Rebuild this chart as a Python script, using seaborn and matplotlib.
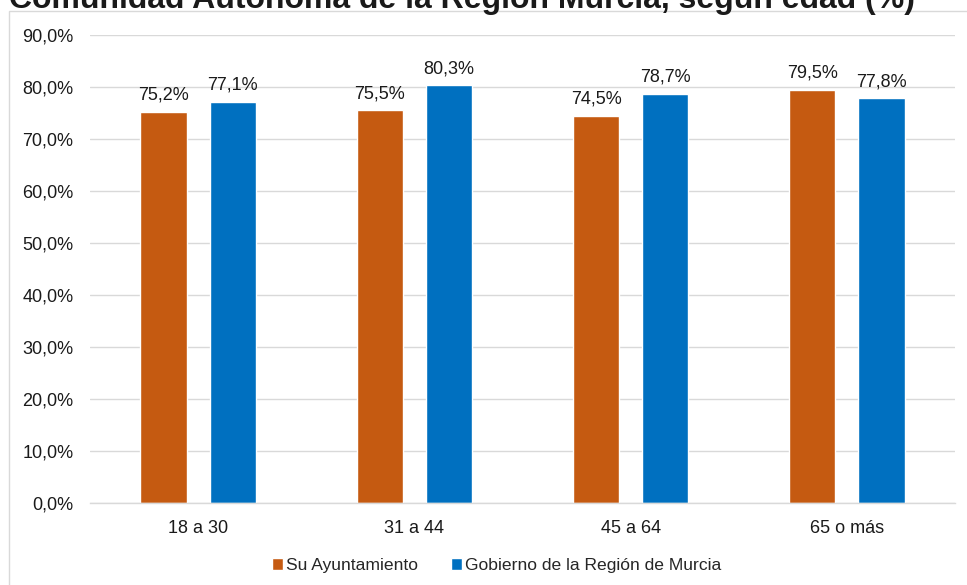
import matplotlib
matplotlib.use("Agg")
import matplotlib.pyplot as plt
import matplotlib.patches as mpatches
from matplotlib.ticker import FuncFormatter, MultipleLocator
import pandas as pd
import seaborn as sns

# data
age_groups = ["18 a 30", "31 a 44", "45 a 64", "65 o más"]
series_names = ["Su Ayuntamiento", "Gobierno de la Región de Murcia"]
ayuntamiento = [75.2, 75.5, 74.5, 79.5]
gobierno = [77.1, 80.3, 78.7, 77.8]
title_text = "Comunidad Autónoma de la Región Murcia, según edad (%)"

ORANGE = "#C55A11"
BLUE = "#0070C0"
GRID = "#D9D9D9"
TEXT = "#1A1A1A"


def pct(value, _pos=None):
    return f"{value:.1f}%".replace(".", ",")


def main() -> None:
    df = pd.DataFrame(
        {
            "edad": age_groups * 2,
            "serie": [series_names[0]] * len(age_groups) + [series_names[1]] * len(age_groups),
            "valor": ayuntamiento + gobierno,
        }
    )

    sns.set_theme(style="white")
    plt.rcParams["font.family"] = ["Liberation Sans", "DejaVu Sans"]

    fig = plt.figure(figsize=(9.67, 5.85), dpi=100)
    # outer chart frame (only left and top edges fall inside the picture)
    fig.patches.append(
        mpatches.Rectangle(
            (9 / 967, -0.05), 1.2, 1 - 11 / 585 + 0.05,
            transform=fig.transFigure, fill=False, edgecolor=GRID, linewidth=1.0,
        )
    )
    # title is cropped at the top in the reference
    fig.text(0.478, 1 - 8 / 585, title_text, ha="center", va="baseline",
             fontsize=23, fontweight="bold", color=TEXT)

    ax = fig.add_axes([90 / 967, 1 - 503 / 585, (955 - 90) / 967, (503 - 35) / 585])
    sns.barplot(
        data=df, x="edad", y="valor", hue="serie",
        palette=[ORANGE, BLUE], width=0.64, gap=0.33,
        saturation=1, legend=True, ax=ax,
    )

    ax.set_ylim(0, 90)
    ax.yaxis.set_major_locator(MultipleLocator(10))
    ax.yaxis.set_major_formatter(FuncFormatter(pct))
    ax.grid(axis="y", color=GRID, linewidth=1.0)
    ax.set_axisbelow(True)
    for side in ["top", "right", "left"]:
        ax.spines[side].set_visible(False)
    ax.spines["bottom"].set_color(GRID)
    ax.spines["bottom"].set_linewidth(1.0)
    ax.tick_params(axis="both", length=0, labelsize=13, labelcolor=TEXT)
    ax.tick_params(axis="y", pad=12)
    ax.tick_params(axis="x", pad=12)
    ax.set_xlabel("")
    ax.set_ylabel("")

    for container in ax.containers:
        ax.bar_label(container, labels=[pct(v) for v in container.datavalues],
                     padding=6, fontsize=13, color=TEXT)

    handles, labels = ax.get_legend_handles_labels()
    ax.legend(
        handles, labels, loc="center", bbox_to_anchor=(0.47, -0.134),
        ncol=2, frameon=False, fontsize=12.6, handlelength=0.6, handleheight=0.6,
        handletextpad=0.17, columnspacing=1.9,
    )

    fig.savefig("out.png", dpi=100)
    plt.close(fig)


if __name__ == "__main__":
    main()
